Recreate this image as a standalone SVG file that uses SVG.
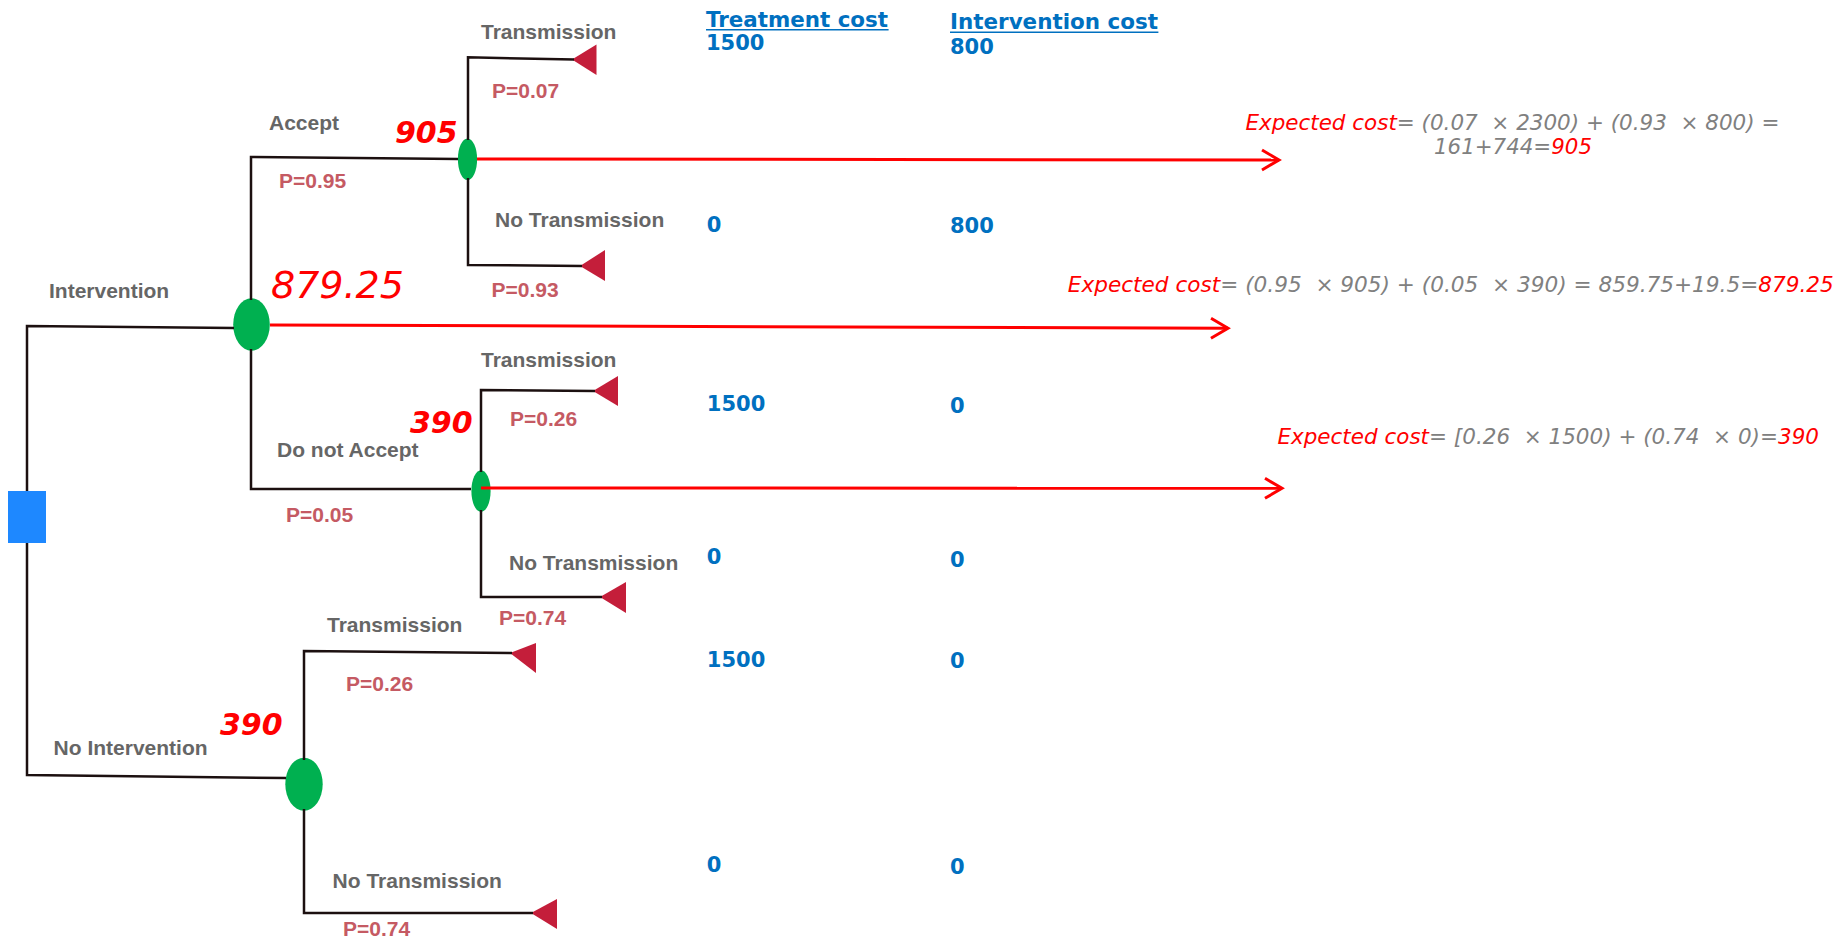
<svg xmlns="http://www.w3.org/2000/svg" width="1846" height="940" viewBox="0 0 1846 940">
<defs>
<style>
.lbl{font-family:"Liberation Sans",Arial,sans-serif;font-weight:bold;font-size:21px;fill:#666666}
.prob{font-family:"Liberation Sans",Arial,sans-serif;font-weight:bold;font-size:21px;fill:#C55A63}
.cost{font-family:"DejaVu Sans",Verdana,sans-serif;font-weight:bold;font-size:21px;fill:#0070C0}
.val{font-family:"DejaVu Sans",Verdana,sans-serif;font-weight:bold;font-style:italic;font-size:30px;fill:#FF0000}
.bigval{font-family:"DejaVu Sans",Verdana,sans-serif;font-style:italic;font-size:38px;fill:#FF0000}
.ev{font-family:"DejaVu Sans",Verdana,sans-serif;font-style:italic;font-size:21px;fill:#808080;white-space:pre}
.red{fill:#FF0000}
.edge{stroke:#1C1010;stroke-width:2.5;fill:none}
.arrow{stroke:#FF0000;stroke-width:3;fill:none}
.ul{stroke:#0070C0;stroke-width:1.6}
.chance{fill:#00B050}
.term{fill:#C41E3A}
.decision{fill:#1E88FF}
</style>
<marker id="chev" markerUnits="userSpaceOnUse" markerWidth="24" markerHeight="26" refX="18" refY="11" orient="auto" overflow="visible">
<path d="M1,1 L18,11 L1,21" fill="none" stroke="#FF0000" stroke-width="3"/>
</marker>
</defs>
<rect width="1846" height="940" fill="#FFFFFF"/>

<g id="root">
<rect class="decision" x="8" y="491" width="38" height="52"/>
</g>

<g id="chance-intervention">
<ellipse class="chance" cx="251.5" cy="324.5" rx="18.3" ry="26.3"/>
<text class="bigval" x="271" y="298.3">879.25</text>
</g>
<g id="chance-accept">
<ellipse class="chance" cx="467.5" cy="159.3" rx="9.6" ry="20.8"/>
<text class="val" x="395" y="143.3">905</text>
</g>
<g id="chance-donotaccept">
<ellipse class="chance" cx="481" cy="491" rx="9.6" ry="20.8"/>
<text class="val" x="410" y="433.3">390</text>
</g>
<g id="chance-nointervention">
<ellipse class="chance" cx="304" cy="784.2" rx="18.7" ry="26.5"/>
<text class="val" x="220" y="735">390</text>
</g>

<g id="terminal-1"><polygon class="term" points="572,59.5 596.5,44.5 596.5,75"/></g>
<g id="terminal-2"><polygon class="term" points="580,266 605,250 605,281"/></g>
<g id="terminal-3"><polygon class="term" points="593,391 618,376 618,406"/></g>
<g id="terminal-4"><polygon class="term" points="600,597 626,582 626,613"/></g>
<g id="terminal-5"><polygon class="term" points="510,653 536,643 536,673"/></g>
<g id="terminal-6"><polygon class="term" points="531,913 557,899 557,929"/></g>

<g id="connectors">
<path class="edge" d="M234,328 L27,326 L27,491 M27,543 L27,775 L286,778"/>
<path class="edge" d="M251,300 L251,157 L458,159"/>
<path class="edge" d="M251,349 L251,489 L471,489"/>
<path class="edge" d="M468,140 L468,57.3 L574,59.5"/>
<path class="edge" d="M468,178 L468,265 L582,266"/>
<path class="edge" d="M481,472 L481,390 L595,391"/>
<path class="edge" d="M481,510 L481,597 L602,597"/>
<path class="edge" d="M304,760 L304,651 L512,653"/>
<path class="edge" d="M304,809 L304,913 L533,913"/>
<path class="arrow" d="M477,159 L1279,160" marker-end="url(#chev)"/>
<path class="arrow" d="M270,325 L1228,328.3" marker-end="url(#chev)"/>
<path class="arrow" d="M481,488 L1282,488.3" marker-end="url(#chev)"/>
</g>

<g id="branch-labels">
<text class="lbl" x="481" y="39.3">Transmission</text>
<text class="prob" x="492" y="97.7">P=0.07</text>
<text class="lbl" x="269" y="130">Accept</text>
<text class="prob" x="279" y="187.7">P=0.95</text>
<text class="lbl" x="495" y="226.7">No Transmission</text>
<text class="prob" x="491.5" y="296.7">P=0.93</text>
<text class="lbl" x="49" y="297.7">Intervention</text>
<text class="lbl" x="481" y="366.7">Transmission</text>
<text class="prob" x="510" y="426">P=0.26</text>
<text class="lbl" x="277" y="456.7">Do not Accept</text>
<text class="prob" x="286" y="521.7">P=0.05</text>
<text class="lbl" x="509" y="570">No Transmission</text>
<text class="prob" x="499" y="625">P=0.74</text>
<text class="lbl" x="327" y="632.3">Transmission</text>
<text class="prob" x="346" y="690.7">P=0.26</text>
<text class="lbl" x="53.6" y="755">No Intervention</text>
<text class="lbl" x="332.6" y="888.3">No Transmission</text>
<text class="prob" x="343" y="936">P=0.74</text>
</g>

<g id="costs">
<text class="cost" x="706" y="26.7" textLength="182" lengthAdjust="spacingAndGlyphs">Treatment cost</text>
<line class="ul" x1="706" y1="29.8" x2="888.6" y2="29.8"/>
<text class="cost" x="950" y="29.3" textLength="208" lengthAdjust="spacingAndGlyphs">Intervention cost</text>
<line class="ul" x1="950" y1="32.2" x2="1158.4" y2="32.2"/>
<text class="cost" x="706" y="50">1500</text>
<text class="cost" x="950" y="54">800</text>
<text class="cost" x="706.8" y="231.7">0</text>
<text class="cost" x="950" y="233.3">800</text>
<text class="cost" x="706.8" y="410.8">1500</text>
<text class="cost" x="950" y="412.7">0</text>
<text class="cost" x="706.8" y="563.9">0</text>
<text class="cost" x="950" y="566.6">0</text>
<text class="cost" x="706.8" y="667.2">1500</text>
<text class="cost" x="950" y="668.4">0</text>
<text class="cost" x="706.8" y="872">0</text>
<text class="cost" x="950" y="873.9">0</text>
</g>

<g id="expected-costs">
<text class="ev" x="1245.4" y="130" textLength="534" lengthAdjust="spacingAndGlyphs"><tspan class="red">Expected cost</tspan>= (0.07  × 2300) + (0.93  × 800) =</text>
<text class="ev" x="1434" y="154" textLength="158" lengthAdjust="spacingAndGlyphs">161+744=<tspan class="red">905</tspan></text>
<text class="ev" x="1067.8" y="291.7" textLength="766" lengthAdjust="spacingAndGlyphs"><tspan class="red">Expected cost</tspan>= (0.95  × 905) + (0.05  × 390) = 859.75+19.5=<tspan class="red">879.25</tspan></text>
<text class="ev" x="1277.4" y="444" textLength="541.6" lengthAdjust="spacingAndGlyphs"><tspan class="red">Expected cost</tspan>= [0.26  × 1500) + (0.74  × 0)=<tspan class="red">390</tspan></text>
</g>
</svg>
